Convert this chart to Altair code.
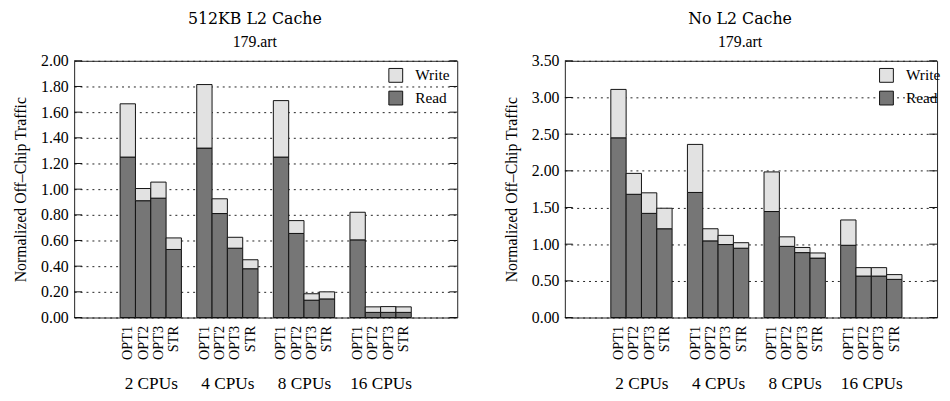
import altair as alt
import pandas as pd

# ---- data ----
GROUPS = ["2 CPUs", "4 CPUs", "8 CPUs", "16 CPUs"]
BARS = ["OPT1", "OPT2", "OPT3", "STR"]
KINDS = ["Write", "Read"]

# 512KB L2 Cache (values per group, per bar)
L2_READ = [1.25, 0.91, 0.93, 0.53,
           1.32, 0.81, 0.54, 0.38,
           1.25, 0.655, 0.135, 0.145,
           0.605, 0.04, 0.04, 0.04]
L2_TOTAL = [1.665, 1.005, 1.055, 0.62,
            1.815, 0.925, 0.625, 0.45,
            1.69, 0.755, 0.185, 0.20,
            0.82, 0.083, 0.085, 0.083]

# No L2 Cache
NOL2_READ = [2.45, 1.68, 1.42, 1.21,
             1.705, 1.045, 0.995, 0.945,
             1.445, 0.97, 0.885, 0.81,
             0.985, 0.565, 0.565, 0.52]
NOL2_TOTAL = [3.11, 1.965, 1.70, 1.49,
              2.36, 1.21, 1.12, 1.02,
              1.985, 1.10, 0.955, 0.88,
              1.33, 0.68, 0.68, 0.585]

L2_TICKS = [0.0, 0.2, 0.4, 0.6, 0.8, 1.0, 1.2, 1.4, 1.6, 1.8, 2.0]
NOL2_TICKS = [0.0, 0.5, 1.0, 1.5, 2.0, 2.5, 3.0, 3.5]

# ---- layout / style ----
LEAD = 3          # empty bar slots before the first group
STRIDE = 5        # slots per group (4 bars + 1 gap)
SERIF = "Liberation Serif, Times New Roman, serif"
TITLE_FONT = "DejaVu Serif, serif"
READ_COLOR = "#767676"
WRITE_COLOR = "#e2e2e2"
HEIGHT = 260


def panel(title, read, total, ticks, width, xmax):
    rows = []
    for g in range(len(GROUPS)):
        for b in range(len(BARS)):
            i = g * len(BARS) + b
            s = LEAD + g * STRIDE + b
            rows.append(dict(slot=s, slot2=s + 1, kind="Read", lo=0.0, hi=read[i]))
            rows.append(dict(slot=s, slot2=s + 1, kind="Write", lo=read[i], hi=total[i]))
    df = pd.DataFrame(rows)

    xscale = alt.Scale(domain=[0, xmax], nice=False, zero=False)
    yscale = alt.Scale(domain=[ticks[0], ticks[-1]], nice=False)

    bar_centers = [LEAD + g * STRIDE + b + 0.5
                   for g in range(len(GROUPS)) for b in range(len(BARS))]
    names_js = "[" + ",".join(f"'{n}'" for n in BARS) + "]"
    bar_label_expr = f"{names_js}[floor(datum.value - {LEAD}) % {STRIDE}]"

    group_centers = [LEAD + g * STRIDE + len(BARS) / 2 for g in range(len(GROUPS))]
    groups_js = "[" + ",".join(f"'{n}'" for n in GROUPS) + "]"
    group_label_expr = (f"{groups_js}[round((datum.value - {LEAD} - {len(BARS) / 2}) / {STRIDE})]")

    yaxis = alt.Axis(values=ticks, format=".2f", grid=True,
                     gridDash=[2, 4], gridColor="#222222", gridWidth=1,
                     tickSize=0, domain=False,
                     labelFont=SERIF, labelFontSize=16, labelColor="black",
                     labelPadding=6,
                     title="Normalized Off\u2013Chip Traffic",
                     titleFont=SERIF, titleFontSize=16, titleFontWeight="normal",
                     titleColor="black", titlePadding=12)

    bars = alt.Chart(df).mark_bar(stroke="#111111", strokeWidth=1).encode(
        x=alt.X("slot:Q", scale=xscale,
                axis=alt.Axis(values=bar_centers, labelExpr=bar_label_expr,
                              labelAngle=-90, labelAlign="right", labelBaseline="middle",
                              labelFont=SERIF, labelFontSize=14.5, labelColor="black",
                              labelPadding=8, labelOverlap=False, labelFlush=False,
                              tickSize=0, domain=False, grid=False, title=None,
                              orient="bottom")),
        x2="slot2:Q",
        y=alt.Y("lo:Q", scale=yscale, axis=yaxis),
        y2="hi:Q",
        color=alt.Color("kind:N",
                        scale=alt.Scale(domain=KINDS, range=[WRITE_COLOR, READ_COLOR]),
                        legend=alt.Legend(title=None, orient="none", legendX=318, legendY=7,
                                          symbolType="square", symbolSize=196,
                                          symbolStrokeColor="#111111", symbolStrokeWidth=1,
                                          symbolOpacity=1,
                                          labelFont=SERIF, labelFontSize=15.5,
                                          labelColor="black", labelOffset=12,
                                          rowPadding=4, padding=0)),
    )

    tick_df = pd.DataFrame({"lo": ticks})
    left_ticks = alt.Chart(tick_df).mark_rule(color="#111111", strokeWidth=1).encode(
        y=alt.Y("lo:Q", scale=yscale, axis=yaxis),
        x=alt.value(0), x2=alt.value(8))
    right_ticks = alt.Chart(tick_df).mark_rule(color="#111111", strokeWidth=1).encode(
        y=alt.Y("lo:Q", scale=yscale, axis=yaxis),
        x=alt.value(width - 8), x2=alt.value(width))

    grp_df = pd.DataFrame({"c": group_centers, "name": GROUPS})
    group_axis = alt.Chart(grp_df).mark_point(opacity=0).encode(
        x=alt.X("c:Q", scale=xscale,
                axis=alt.Axis(values=group_centers, labelExpr=group_label_expr,
                              labelFont=SERIF, labelFontSize=17.5, labelColor="black",
                              labelPadding=58, labelOverlap=False, labelFlush=False,
                              tickSize=0, domain=False, grid=False, title=None,
                              orient="bottom")))

    return alt.layer(bars, left_ticks, right_ticks, group_axis).resolve_axis(
        x="independent"
    ).properties(
        width=width, height=HEIGHT,
        title=alt.TitleParams(text=title, subtitle="179.art", font=TITLE_FONT,
                              fontSize=16, fontWeight="normal", color="black",
                              subtitleFont=SERIF, subtitleFontSize=16,
                              subtitleColor="black", subtitlePadding=7,
                              offset=3, anchor="middle", frame="group", dx=-11),
    )


left = panel("512KB L2 Cache", L2_READ, L2_TOTAL, L2_TICKS, 388, 25)
right = panel("No L2 Cache", NOL2_READ, NOL2_TOTAL, NOL2_TICKS, 377, 377 / (388 / 25))

chart = alt.hconcat(left, right, spacing=45).resolve_scale(
    color="independent", x="independent", y="independent"
).resolve_legend(color="independent").properties(
    padding={"left": 4, "top": 0, "right": 0, "bottom": 0},
    background="white",
).configure_view(stroke="#222222", strokeWidth=1)

chart.save("out.html", embed_options={"renderer": "svg", "actions": False})
